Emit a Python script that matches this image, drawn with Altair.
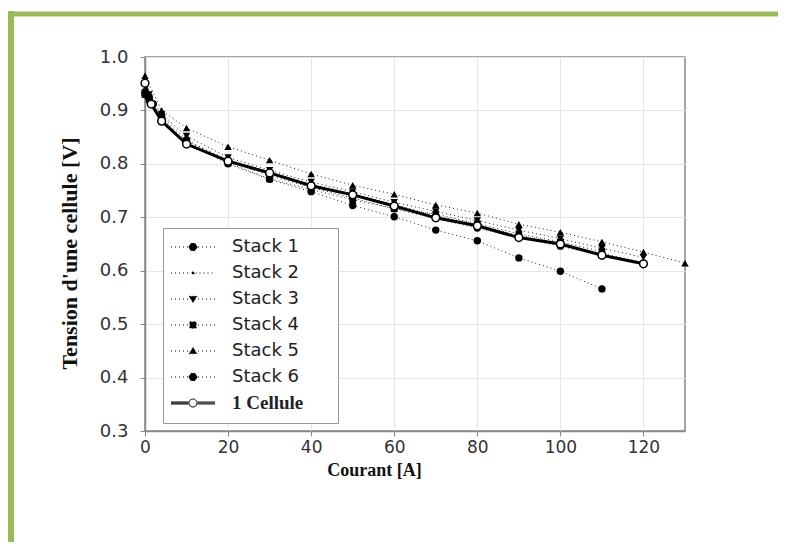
import altair as alt
import pandas as pd

# ---------------- data ----------------
names = ["Stack 1", "Stack 2", "Stack 3", "Stack 4", "Stack 5", "Stack 6", "1 Cellule"]

s1_I = [0, 0.5, 1, 2, 4, 10, 20, 30, 40, 50, 60, 70, 80, 90, 100, 110]
s1_V = [0.930, 0.928, 0.922, 0.912, 0.890, 0.845, 0.805, 0.778, 0.756, 0.736, 0.716, 0.698, 0.680, 0.662, 0.646, 0.628]

s2_I = [0, 1, 4, 10, 20, 30, 40, 50, 60, 70, 80, 90, 100, 110, 120]
s2_V = [0.945, 0.915, 0.885, 0.842, 0.808, 0.785, 0.762, 0.744, 0.724, 0.703, 0.686, 0.666, 0.652, 0.632, 0.616]

s3_I = [0, 1, 4, 10, 20, 30, 40, 50, 60, 70, 80, 90, 100, 110, 120]
s3_V = [0.950, 0.930, 0.893, 0.852, 0.812, 0.788, 0.766, 0.748, 0.728, 0.711, 0.694, 0.676, 0.660, 0.642, 0.625]

s4_I = [0, 1, 4, 10, 20, 30, 40, 50, 60, 70, 80, 90, 100, 110]
s4_V = [0.930, 0.920, 0.882, 0.840, 0.802, 0.772, 0.752, 0.733, 0.716, 0.706, 0.688, 0.669, 0.654, 0.636]

s5_I = [0, 4, 10, 20, 30, 40, 50, 60, 70, 80, 90, 100, 110, 120, 130]
s5_V = [0.965, 0.900, 0.867, 0.832, 0.807, 0.781, 0.760, 0.743, 0.723, 0.708, 0.687, 0.672, 0.654, 0.635, 0.614]

s6_I = [0, 1, 4, 10, 20, 30, 40, 50, 60, 70, 80, 90, 100, 110]
s6_V = [0.935, 0.925, 0.885, 0.840, 0.800, 0.771, 0.748, 0.722, 0.701, 0.676, 0.656, 0.624, 0.599, 0.566]

cel_I = [0, 1.5, 4, 10, 20, 30, 40, 50, 60, 70, 80, 90, 100, 110, 120]
cel_V = [0.951, 0.912, 0.880, 0.837, 0.805, 0.783, 0.759, 0.742, 0.721, 0.699, 0.684, 0.662, 0.650, 0.629, 0.613]

x_ticks = [0, 20, 40, 60, 80, 100, 120]
y_ticks = [0.3, 0.4, 0.5, 0.6, 0.7, 0.8, 0.9, 1.0]

series = [
    ("Stack 1", s1_I, s1_V),
    ("Stack 2", s2_I, s2_V),
    ("Stack 3", s3_I, s3_V),
    ("Stack 4", s4_I, s4_V),
    ("Stack 5", s5_I, s5_V),
    ("Stack 6", s6_I, s6_V),
    ("1 Cellule", cel_I, cel_V),
]
rows = []
for n, I, V in series:
    for i, v in zip(I, V):
        rows.append({"series": n, "I": i, "V": v})
df = pd.DataFrame(rows)

# ---------------- styling ----------------
GREEN = "#9bbb59"
circ = "M0.8,0A0.8,0.8,0,1,1,-0.8,0A0.8,0.8,0,1,1,0.8,0Z"
dot = "M0.25,0A0.25,0.25,0,1,1,-0.25,0A0.25,0.25,0,1,1,0.25,0Z"
seg = "M-4.4,0H-1M1,0H4.4"
leg_paths = [
    seg + circ,
    "M-4.4,0H-0.5M0.5,0H4.4" + dot,
    seg + "M-0.8,-0.55L0.8,-0.55L0,0.75Z",
    seg + "M-0.65,-0.65H0.65V0.65H-0.65Z",
    seg + "M-0.8,0.55L0.8,0.55L0,-0.75Z",
    seg + circ,
    "M-4.4,-0.2H-0.9M-4.4,0H-0.9M-4.4,0.2H-0.9M0.9,-0.2H4.4M0.9,0H4.4M0.9,0.2H4.4" + circ,
]
leg_fill = ["black"] * 6 + ["white"]
leg_dash = [[1, 3]] * 6 + [[1, 0]]

x_enc = alt.X(
    "I:Q",
    scale=alt.Scale(domain=[0, 130], nice=False, zero=False),
    axis=alt.Axis(values=x_ticks, title="Courant [A]", labelPadding=3, titlePadding=6,
                  labelFlush=False, labelFontSize=17, titleFontSize=18,
                  titleX=229, titleAlign="center"),
)
y_enc = alt.Y(
    "V:Q",
    scale=alt.Scale(domain=[0.3, 1.0], nice=False, zero=False),
    axis=alt.Axis(values=y_ticks, format=".1f", title="Tension d'une cellule [V]",
                  labelPadding=12, titlePadding=18, labelFlush=False, labelFontSize=18,
                  titleFontSize=22, titleY=196),
)

base = alt.Chart(df)
layers = []

marker = {
    "Stack 1": dict(shape="circle", size=55),
    "Stack 2": dict(shape="circle", size=5),
    "Stack 3": dict(shape="triangle-down", size=55),
    "Stack 4": dict(shape="square", size=45),
    "Stack 5": dict(shape="triangle-up", size=55),
    "Stack 6": dict(shape="circle", size=55),
}
for n in names[:-1]:
    sub = base.transform_filter(alt.datum.series == n)
    layers.append(sub.mark_line(stroke="#222", strokeWidth=1, strokeDash=[1, 3]).encode(x=x_enc, y=y_enc))
    layers.append(sub.mark_point(filled=True, color="black", opacity=1, **marker[n]).encode(x=x_enc, y=y_enc))

cel = base.transform_filter(alt.datum.series == "1 Cellule")
layers.append(cel.mark_line(stroke="black", strokeWidth=3).encode(x=x_enc, y=y_enc))
layers.append(cel.mark_point(shape="circle", size=60, fill="white", stroke="black",
                             strokeWidth=1.5, opacity=1, filled=False).encode(x=x_enc, y=y_enc))

leg = dict(
    title=".",
    titleOrient="right",
    titlePadding=22,
    titleColor="white",
    titleFontSize=10,
    orient="none",
    legendX=18,
    legendY=171,
    strokeColor="#999",
    fillColor="white",
    padding=10,
    rowPadding=8,
    symbolSize=100,
    symbolOffset=11,
    symbolStrokeWidth=1,
    symbolStrokeColor="black",
    labelOffset=30,
    labelColor="#222",
    labelFont={"expr": "datum.label == '1 Cellule' ? 'Liberation Serif' : 'DejaVu Sans'"},
    labelFontWeight={"expr": "datum.label == '1 Cellule' ? 'bold' : 'normal'"},
    labelFontSize={"expr": "datum.label == '1 Cellule' ? 19 : 18"},
)
legend_layer = base.transform_filter("false").mark_point(
    filled=True, stroke="black", strokeWidth=1, opacity=1
).encode(
    x=x_enc,
    y=y_enc,
    color=alt.Color("series:N", scale=alt.Scale(domain=names, range=leg_fill), legend=alt.Legend(**leg)),
    shape=alt.Shape("series:N", scale=alt.Scale(domain=names, range=leg_paths), legend=alt.Legend(**leg)),
    strokeDash=alt.StrokeDash("series:N", scale=alt.Scale(domain=names, range=leg_dash), legend=alt.Legend(**leg)),
)
layers.append(legend_layer)

# green frame of the figure
one = alt.Chart(pd.DataFrame({"a": [0]}))
frame_left = one.mark_rule(color=GREEN, strokeWidth=6).encode(
    x=alt.value(-134), y=alt.value(-46), y2=alt.value(490))
frame_top = one.mark_rule(color=GREEN, strokeWidth=5).encode(
    x=alt.value(-137), x2=alt.value(660), y=alt.value(-43))

chart = alt.layer(frame_left, frame_top, *layers).properties(
    width=540,
    height=374,
    autosize=alt.AutoSizeParams(type="none"),
    padding={"left": 137, "top": 49, "right": 93, "bottom": 111},
    background="white",
).configure_view(
    stroke="#888", strokeWidth=1.5
).configure_axis(
    domainColor="#888",
    domainWidth=1.5,
    tickColor="#888",
    tickSize=5,
    gridColor="#e6e6e6",
    grid=True,
    labelFont="DejaVu Sans",
    labelColor="#333",
    titleFont="Liberation Serif",
    titleFontWeight="bold",
    titleColor="#111",
)

chart.save("out.html", embed_options={"renderer": "svg", "actions": False})
